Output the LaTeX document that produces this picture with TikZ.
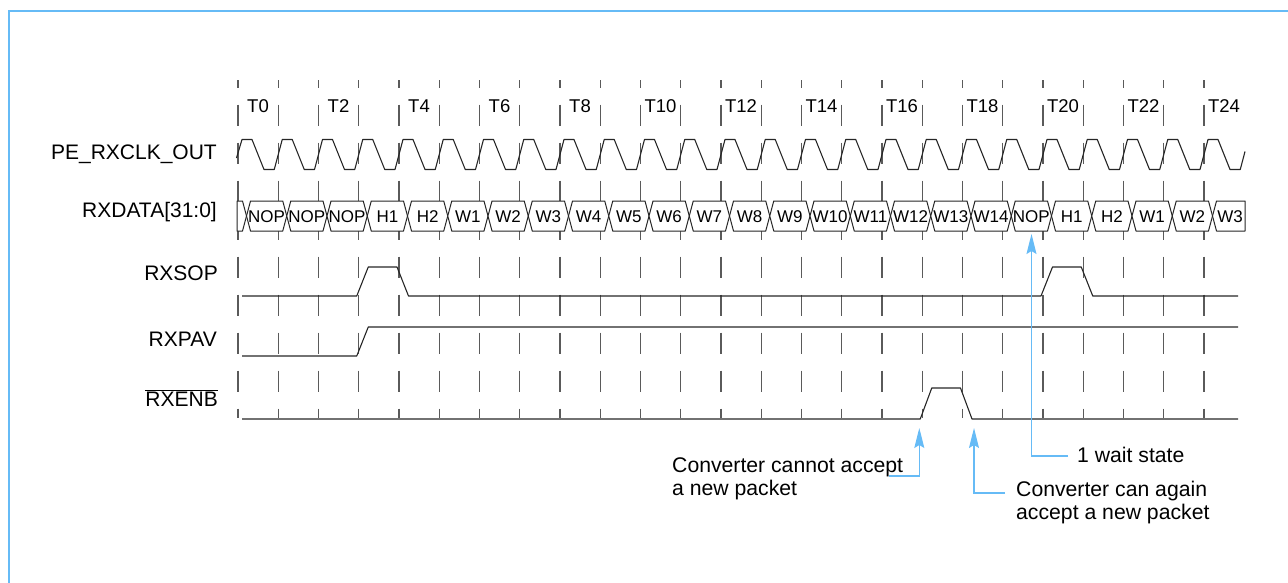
\documentclass[tikz,border=0pt]{standalone}
\usepackage{fontspec}
\setmainfont{Liberation Sans}
\usetikzlibrary{arrows.meta}
\definecolor{annblue}{RGB}{102,187,246}
\definecolor{tickgray}{RGB}{90,90,90}
\begin{document}
\begin{tikzpicture}[x=1pt,y=-1pt,
  lbl/.style={anchor=east, inner sep=0pt, font=\fontsize{21}{24}\selectfont},
  tlbl/.style={inner sep=0pt, font=\fontsize{18.5}{20}\selectfont},
  buslbl/.style={inner sep=0pt, font=\fontsize{17}{20}\selectfont},
  ann/.style={anchor=west, align=left, inner sep=0pt, font=\fontsize{21.2}{23}\selectfont},
  sig/.style={line width=1.1pt, black!85, line join=round},
  bus/.style={line width=1pt, black!85, fill=white, line join=round},
  gridline/.style={line width=1.2pt, tickgray, dash pattern=on 21pt off 17pt, dash phase=13.3pt},
  annline/.style={line width=1.2pt, annblue},
  annarrow/.style={annline, -{Stealth[length=20pt,width=10pt,inset=3pt]}},
  frameline/.style={line width=2pt, annblue}]
\useasboundingbox (0,0) rectangle (1288,582);
% frame
\draw[frameline] (1290,10.5) -- (9,10.5) -- (9,584);
% grid ticks
\foreach \k in {0,...,24} {
  \draw[gridline] ({238+40.25*\k},80) -- ({238+40.25*\k},418);
}
% T labels
\foreach \k in {0,2,...,24} {
  \node[tlbl] (t\k) at ({238+40.25*\k+20},106.5) {T\k};
}
% row labels
\node[lbl] (lclk) at (217,154) {PE\_RXCLK\_OUT};
\node[lbl] (ldata) at (217,212) {RXDATA[31:0]};
\node[lbl] (lsop) at (218,273) {RXSOP};
\node[lbl] (lpav) at (217,339) {RXPAV};
\node[lbl] (lenb) at (218,398) {$\overline{\mbox{RXENB}}$};
% clock
\draw[sig] (236.5,158)
  \foreach \k in {0,...,24} {
    -- ({238+40.25*\k+4},139.5) -- ({238+40.25*\k+14},139.5)
    -- ({238+40.25*\k+26},169.5) -- ({238+40.25*\k+36.25},169.5)
  } -- (1245,151.5);
% bus
\draw[bus] (237,201) -- (242.5,201) -- (246.5,216) -- (242.5,231) -- (237,231) -- cycle;
\foreach \k/\t in {0/NOP,1/NOP,2/NOP,3/H1,4/H2,5/W1,6/W2,7/W3,8/W4,9/W5,10/W6,11/W7,12/W8,13/W9,14/W10,15/W11,16/W12,17/W13,18/W14,19/NOP,20/H1,21/H2,22/W1,23/W2} {
  \pgfmathsetmacro\ca{246.5+40.25*\k}
  \pgfmathsetmacro\cb{\ca+40.25}
  \draw[bus] (\ca,216) -- ({\ca+4},201) -- ({\cb-4},201) -- (\cb,216) -- ({\cb-4},231) -- ({\ca+4},231) -- cycle;
  \node[buslbl] (b\k) at ({(\ca+\cb)/2},216.5) {\t};
}
\draw[bus] (1212.5,216) -- (1216.5,201) -- (1245,201) -- (1245,231) -- (1216.5,231) -- cycle;
\node[buslbl] (b24) at (1230,216.5) {W3};
% RXSOP
\draw[sig] (242,296) -- (356.75,296) -- (368.25,267) -- (397,267) -- (408.5,296)
  -- (1041,296) -- (1052.5,267) -- (1081.25,267) -- (1092.75,296) -- (1238,296);
% RXPAV
\draw[sig] (242,356) -- (356.75,356) -- (368.25,327) -- (1238,327);
% RXENB
\draw[sig] (242,419) -- (920.25,419) -- (931.75,388) -- (960.5,388) -- (972,419) -- (1238,419);
% annotations
\node[ann] (a1) at (1077,454.5) {1 wait state};
\node[ann] (a2) at (672,478.5) {Converter cannot accept\\a new packet};
\node[ann] (a3) at (1016,503) {Converter can again\\accept a new packet};
\coordinate (tipw) at (1031.5,234);
\coordinate (tipa) at (919.3,428);
\coordinate (tipb) at (974,428);
\coordinate (c1) at (1068,456);
\coordinate (c2) at (889,476);
\coordinate (c3) at (1005,493);
\draw[annarrow] (c1) -| (tipw);
\draw[annarrow] (c2) -| (tipa);
\draw[annarrow] (c3) -| (tipb);
\end{tikzpicture}
\end{document}
